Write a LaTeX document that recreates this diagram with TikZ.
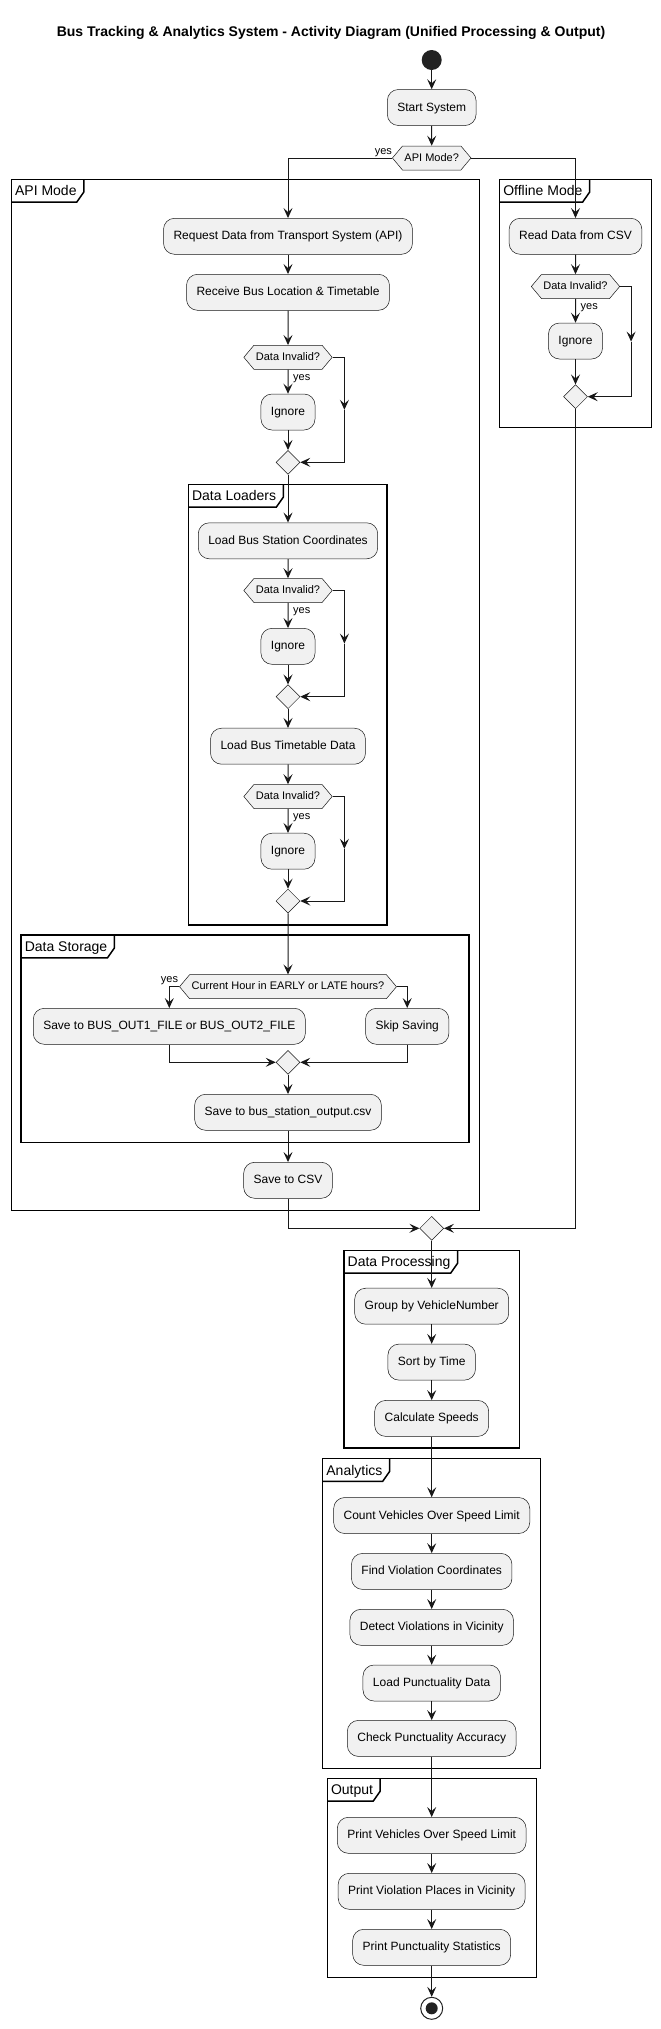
\documentclass[tikz,border=0pt]{standalone}
\usepackage{fontspec}
\setmainfont{Liberation Sans}
\usetikzlibrary{arrows.meta, shapes.geometric, shapes.symbols, calc}

\definecolor{boxfill}{HTML}{F1F1F1}
\definecolor{linec}{HTML}{181818}
\definecolor{dotc}{HTML}{222222}

\tikzset{
  actbox/.style={draw=linec, line width=0.5pt, fill=boxfill, rounded corners=11pt,
    minimum height=36pt, inner xsep=10pt, inner ysep=0pt, text height=9pt, text depth=2pt,
    font=\fontsize{12}{14}\selectfont},
  decision/.style={signal, signal to=east and west, signal pointer angle=100,
    draw=linec, line width=0.5pt, fill=boxfill, inner xsep=2pt, inner ysep=7pt,
    text height=8pt, text depth=2pt, font=\fontsize{11}{13}\selectfont},
  mergept/.style={diamond, draw=linec, line width=0.5pt, fill=boxfill,
    minimum width=24pt, minimum height=24pt, inner sep=0pt},
  flow/.style={draw=linec, line width=1pt, -{Stealth[length=10pt, width=9pt, inset=4pt]}},
  yeslbl/.style={font=\fontsize{11}{13}\selectfont, inner sep=0pt},
  frameline/.style={draw=black, line width=1.5pt},
  frametitle/.style={anchor=north west, inner xsep=3.5pt, inner ysep=0pt, minimum height=22.4pt,
    text height=12pt, text depth=2pt, font=\fontsize{14}{16}\selectfont},
}

% frame with a name tab: name, top left, bottom right, title
\newcommand{\umlframe}[4]{%
  \draw[frameline] #2 rectangle #3;
  \node[frametitle] (#1) at #2 {#4};
  \draw[frameline] (#1.south west) -- ([xshift=-3.5pt]#1.south east)
    -- ([xshift=3.5pt, yshift=10pt]#1.south east) -- ([xshift=3.5pt]#1.north east);
}

\begin{document}
\begin{tikzpicture}[x=1pt, y=-1pt]
    \fill[white] (0,0) rectangle (661,2029);
    \useasboundingbox (0,0) rectangle (661,2029);

    \node[font=\bfseries\fontsize{14}{16}\selectfont, anchor=base] (title) at (331,36.5)
        {Bus Tracking \& Analytics System - Activity Diagram (Unified Processing \& Output)};

    % frames
    \umlframe{apiF}{(11.4,179.3)}{(479.3,1210.7)}{API Mode}
    \umlframe{offF}{(499.6,179.3)}{(651.4,427.7)}{Offline Mode}
    \umlframe{loadF}{(188.4,484.3)}{(387,925)}{Data Loaders}
    \umlframe{storeF}{(21.1,935)}{(469.2,1142.3)}{Data Storage}
    \umlframe{procF}{(344,1250.4)}{(519.3,1447.9)}{Data Processing}
    \umlframe{anaF}{(322.7,1458.6)}{(540.7,1768.3)}{Analytics}
    \umlframe{outF}{(327.3,1778.3)}{(536.7,1977.3)}{Output}

    % start
    \node[circle, fill=dotc, minimum size=20pt, inner sep=0pt] (start) at (431.7,60) {};
    \node[actbox] (startsys) at (431.7,107.5) {Start System};
    \node[decision] (apimode) at (431.7,158) {API Mode?};
    \node[yeslbl, anchor=base east] (yes0) at ([yshift=4pt]apimode.west) {yes};

    % API mode
    \node[actbox] (request) at (288,236.3) {Request Data from Transport System (API)};
    \node[actbox] (receive) at (288,292.3) {Receive Bus Location \& Timetable};
    \node[decision] (inv1) at (288,357.3) {Data Invalid?};
    \node[yeslbl, anchor=base west] (yes1) at ([xshift=5pt, yshift=-10.5pt]inv1.south) {yes};
    \node[actbox] (ign1) at (288,412) {Ignore};
    \node[mergept] (m1) at (288,462.3) {};
    \coordinate (b1) at (344.4,409.8);

    % data loaders
    \node[actbox] (loadst) at (288,540.8) {Load Bus Station Coordinates};
    \node[decision] (inv2) at (288,590.5) {Data Invalid?};
    \node[yeslbl, anchor=base west] (yes2) at ([xshift=5pt, yshift=-10.5pt]inv2.south) {yes};
    \node[actbox] (ign2) at (288,646.3) {Ignore};
    \node[mergept] (m2) at (288,696.7) {};
    \coordinate (b2) at (344.4,643.6);
    \node[actbox] (loadtt) at (288,746.2) {Load Bus Timetable Data};
    \node[decision] (inv3) at (288,796.5) {Data Invalid?};
    \node[yeslbl, anchor=base west] (yes3) at ([xshift=5pt, yshift=-10.5pt]inv3.south) {yes};
    \node[actbox] (ign3) at (288,851.2) {Ignore};
    \node[mergept] (m3) at (288,901) {};
    \coordinate (b3) at (344.4,848.8);

    % data storage
    \node[decision] (hour) at (288,986.7) {Current Hour in EARLY or LATE hours?};
    \node[yeslbl, anchor=base east] (yes5) at ([xshift=-1pt, yshift=4.5pt]hour.west) {yes};
    \node[actbox] (saveout) at (169.3,1026.3) {Save to BUS\_OUT1\_FILE or BUS\_OUT2\_FILE};
    \node[actbox] (skip) at (407.2,1026.3) {Skip Saving};
    \node[mergept] (m4) at (288,1062.3) {};
    \node[actbox] (savestn) at (288,1112.3) {Save to bus\_station\_output.csv};
    \node[actbox] (savecsv) at (288,1180.3) {Save to CSV};

    % offline mode
    \node[actbox] (readcsv) at (575.5,236.3) {Read Data from CSV};
    \node[decision] (inv4) at (575.5,286.5) {Data Invalid?};
    \node[yeslbl, anchor=base west] (yes4) at ([xshift=5pt, yshift=-10.5pt]inv4.south) {yes};
    \node[actbox] (ign4) at (575.5,341) {Ignore};
    \node[mergept] (m5) at (575.5,396.7) {};
    \coordinate (b4) at (631.1,341.6);

    % processing, analytics, output
    \node[mergept] (m6) at (431.7,1228.3) {};
    \node[actbox] (group) at (431.7,1306.2) {Group by VehicleNumber};
    \node[actbox] (sort) at (431.7,1362.1) {Sort by Time};
    \node[actbox] (calc) at (431.7,1418.4) {Calculate Speeds};
    \node[actbox] (count) at (431.7,1515.5) {Count Vehicles Over Speed Limit};
    \node[actbox] (find) at (431.7,1571.4) {Find Violation Coordinates};
    \node[actbox] (detect) at (431.7,1627.3) {Detect Violations in Vicinity};
    \node[actbox] (loadp) at (431.7,1683) {Load Punctuality Data};
    \node[actbox] (check) at (431.7,1738.4) {Check Punctuality Accuracy};
    \node[actbox] (pv) at (431.7,1835.3) {Print Vehicles Over Speed Limit};
    \node[actbox] (pvp) at (431.7,1891.3) {Print Violation Places in Vicinity};
    \node[actbox] (pps) at (431.7,1947.3) {Print Punctuality Statistics};
    \node[circle, draw=dotc, line width=1pt, fill=white, minimum size=22pt, inner sep=0pt] (stop) at (431.7,2008.3) {};
    \node[circle, fill=dotc, minimum size=12pt, inner sep=0pt] (stopdot) at (stop) {};

    % connectors
    \draw[flow] (start) -- (startsys);
    \draw[flow] (startsys) -- (apimode);
    \draw[flow] (apimode.west) -| (request.north);
    \draw[flow] (apimode.east) -| (readcsv.north);
    \draw[flow] (request) -- (receive);
    \draw[flow] (receive) -- (inv1);
    \draw[flow] (inv1) -- (ign1);
    \draw[flow] (ign1) -- (m1);
    \draw[flow] (inv1.east) -| (b1);
    \draw[flow] (b1) |- (m1.east);
    \draw[flow] (m1) -- (loadst);
    \draw[flow] (loadst) -- (inv2);
    \draw[flow] (inv2) -- (ign2);
    \draw[flow] (ign2) -- (m2);
    \draw[flow] (inv2.east) -| (b2);
    \draw[flow] (b2) |- (m2.east);
    \draw[flow] (m2) -- (loadtt);
    \draw[flow] (loadtt) -- (inv3);
    \draw[flow] (inv3) -- (ign3);
    \draw[flow] (ign3) -- (m3);
    \draw[flow] (inv3.east) -| (b3);
    \draw[flow] (b3) |- (m3.east);
    \draw[flow] (m3) -- (hour);
    \draw[flow] (hour.west) -| (saveout.north);
    \draw[flow] (hour.east) -| (skip.north);
    \draw[flow] (saveout.south) |- (m4.west);
    \draw[flow] (skip.south) |- (m4.east);
    \draw[flow] (m4) -- (savestn);
    \draw[flow] (savestn) -- (savecsv);
    \draw[flow] (savecsv.south) |- (m6.west);
    \draw[flow] (readcsv) -- (inv4);
    \draw[flow] (inv4) -- (ign4);
    \draw[flow] (ign4) -- (m5);
    \draw[flow] (inv4.east) -| (b4);
    \draw[flow] (b4) |- (m5.east);
    \draw[flow] (m5.south) |- (m6.east);
    \draw[flow] (m6) -- (group);
    \draw[flow] (group) -- (sort);
    \draw[flow] (sort) -- (calc);
    \draw[flow] (calc) -- (count);
    \draw[flow] (count) -- (find);
    \draw[flow] (find) -- (detect);
    \draw[flow] (detect) -- (loadp);
    \draw[flow] (loadp) -- (check);
    \draw[flow] (check) -- (pv);
    \draw[flow] (pv) -- (pvp);
    \draw[flow] (pvp) -- (pps);
    \draw[flow] (pps) -- (stop);
\end{tikzpicture}
\end{document}
